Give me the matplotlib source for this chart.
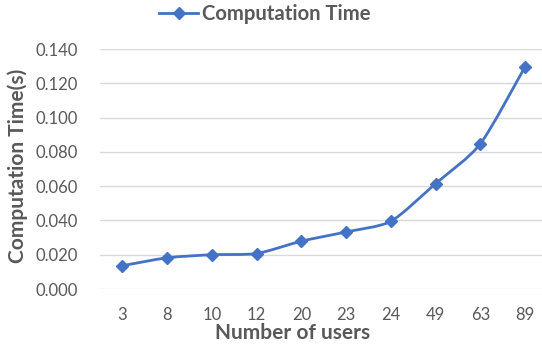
import matplotlib
matplotlib.use("Agg")
import matplotlib.pyplot as plt
from matplotlib.path import Path
from matplotlib.patches import PathPatch
from matplotlib.lines import Line2D

users = ["3", "8", "10", "12", "20", "23", "24", "49", "63", "89"]
comp_time = [0.0136, 0.0182, 0.0200, 0.0207, 0.0279, 0.0333, 0.0395, 0.0615, 0.0847, 0.1297]
y_ticks = [0.000, 0.020, 0.040, 0.060, 0.080, 0.100, 0.120, 0.140]

LINE_COLOR = "#4472C4"
TEXT_COLOR = "#595959"
GRID_COLOR = "#D9D9D9"
plt.rcParams["font.family"] = ["Lato", "DejaVu Sans"]

W, H = 542, 348
fig = plt.figure(figsize=(W / 100, H / 100), dpi=100)
ax = fig.add_axes([100 / W, 1 - 289 / H, 447.5 / W, 240 / H])

x = list(range(len(users)))

# lightly smoothed connecting curve (cubic Bezier through the points)
def smooth_path(xs, ys, t=0.12):
    verts = [(xs[0], ys[0])]
    codes = [Path.MOVETO]
    n = len(xs)
    for i in range(n - 1):
        x0, y0 = xs[max(i - 1, 0)], ys[max(i - 1, 0)]
        x1, y1 = xs[i], ys[i]
        x2, y2 = xs[i + 1], ys[i + 1]
        x3, y3 = xs[min(i + 2, n - 1)], ys[min(i + 2, n - 1)]
        c1 = (x1 + (x2 - x0) * t, y1 + (y2 - y0) * t)
        c2 = (x2 - (x3 - x1) * t, y2 - (y3 - y1) * t)
        verts += [c1, c2, (x2, y2)]
        codes += [Path.CURVE4] * 3
    return Path(verts, codes)

ax.add_patch(PathPatch(smooth_path(x, comp_time), facecolor="none",
                       edgecolor=LINE_COLOR, lw=2.0, zorder=3))
ax.plot(x, comp_time, linestyle="none", marker="D", markersize=6.5,
        color=LINE_COLOR, zorder=4)

ax.set_xlim(-0.5, len(users) - 0.5)
ax.set_ylim(0, 0.14)
ax.set_yticks(y_ticks)
ax.set_yticklabels([f"{v:.3f}" for v in y_ticks])
ax.set_xticks(x)
ax.set_xticklabels(users)
ax.grid(axis="y", color=GRID_COLOR, lw=1.0)
ax.set_axisbelow(True)
for s in ax.spines.values():
    s.set_visible(False)
ax.tick_params(length=0, labelsize=12, labelcolor=TEXT_COLOR)
ax.tick_params(axis="y", pad=16)
ax.tick_params(axis="x", pad=13)

fig.text(293 / W, 1 - 333 / H, "Number of users", fontsize=15, fontweight="bold",
         color=TEXT_COLOR, ha="center", va="center")
fig.text(18 / W, 1 - 166 / H, "Computation Time(s)", fontsize=15, fontweight="bold",
         color=TEXT_COLOR, ha="center", va="center", rotation=90)

handle = Line2D([], [], color=LINE_COLOR, lw=2.0, marker="D", markersize=6.5)
fig.legend([handle], ["Computation Time"], loc="center", bbox_to_anchor=(265 / W, 1 - 14 / H),
           frameon=False, handlelength=1.9, handletextpad=0.2,
           prop={"size": 14.6, "weight": "bold"}, labelcolor=TEXT_COLOR)

fig.savefig("out.png", dpi=100)
